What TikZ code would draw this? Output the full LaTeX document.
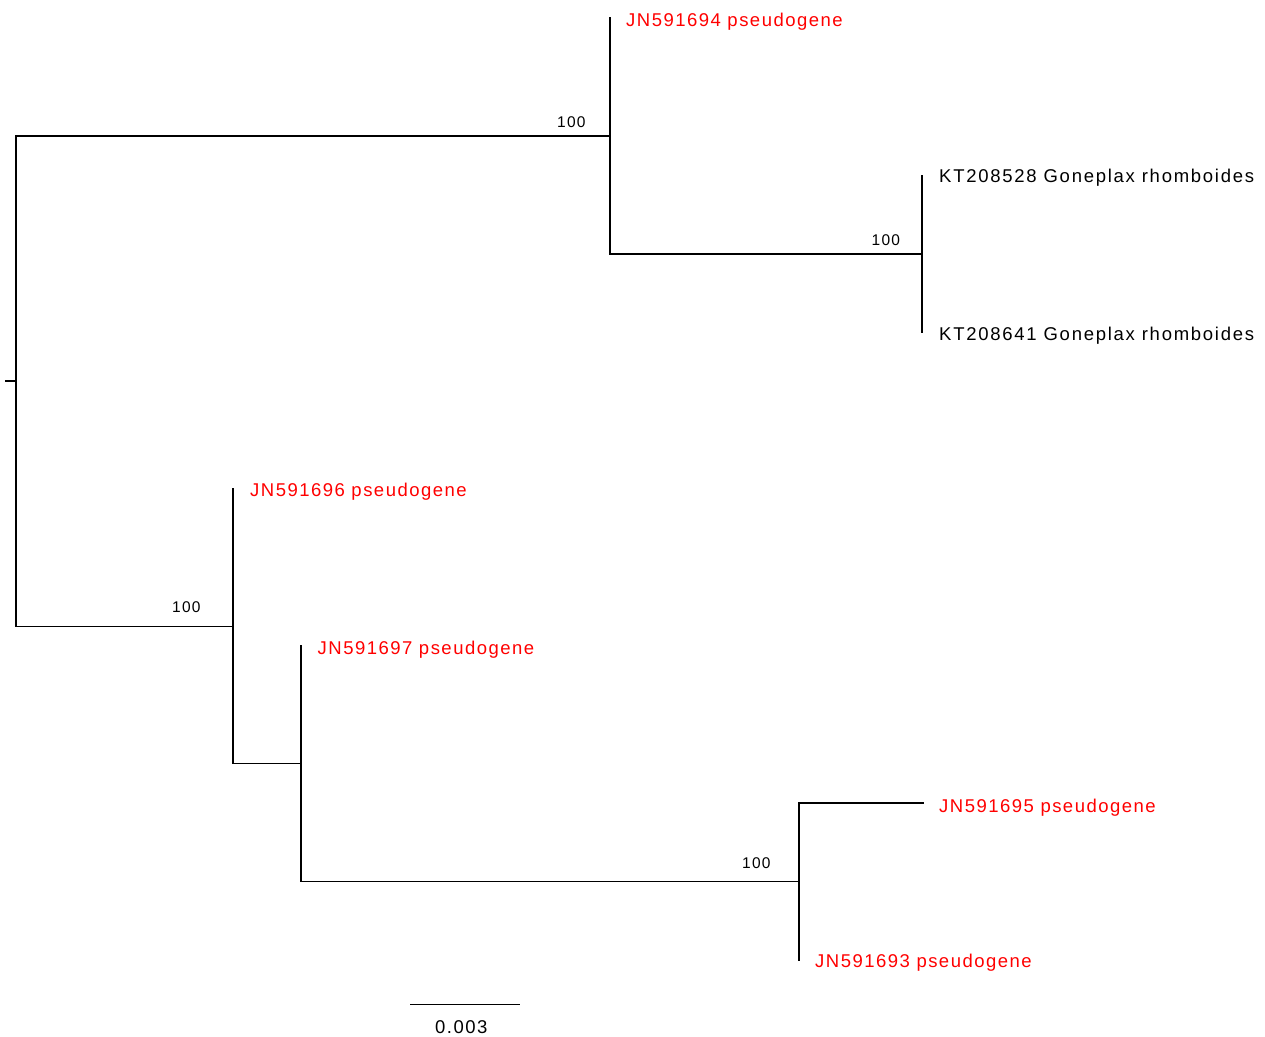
\documentclass[tikz,border=0pt]{standalone}
\usepackage{fontspec}
\setmainfont{Liberation Sans}
\newfontfamily\leaffamily[LetterSpace=8]{Liberation Sans}
\newfontfamily\ktfamily[LetterSpace=9.4]{Liberation Sans}
\newcommand\leaffont{\leaffamily\fontsize{18.5}{22}\selectfont}
\newcommand\ktfont{\ktfamily\fontsize{18.5}{22}\selectfont}
\newcommand\suppfont{\leaffamily\fontsize{15.5}{18}\selectfont}
\definecolor{pseudored}{RGB}{255,0,0}
\begin{document}
\begin{tikzpicture}[x=1pt,y=-1pt,
  branch/.style={draw=black, line width=1.3pt, line cap=rect},
  leaf/.style={anchor=base west, inner sep=0pt, font=\leaffont, text=black},
  ktleaf/.style={leaf, font=\ktfont},
  pseudo/.style={leaf, text=pseudored},
  support/.style={anchor=base west, inner sep=0pt, font=\suppfont, text=black}]
\useasboundingbox (0,0) rectangle (1265,1036);
% tree coordinates
\coordinate (r0) at (6,381);
\coordinate (r) at (16,381);
\coordinate (rt) at (16,136);
\coordinate (rb) at (16,626.5);
\coordinate (a) at (610,136);
\coordinate (a1) at (610,18);
\coordinate (a2) at (610,254);
\coordinate (b) at (922,254);
\coordinate (b1) at (922,175.5);
\coordinate (b2) at (922,332.5);
\coordinate (c) at (233,626.5);
\coordinate (c1) at (233,489);
\coordinate (c2) at (233,763.5);
\coordinate (d) at (301,763.5);
\coordinate (d1) at (301,646);
\coordinate (d2) at (301,881.5);
\coordinate (e) at (799,881.5);
\coordinate (e1) at (799,803);
\coordinate (e2) at (799,960);
\coordinate (t95) at (923,803);
\coordinate (s1) at (410,1004.3);
\coordinate (s2) at (520,1004.3);
% branches
\draw[branch] (r0) -- (r);
\draw[branch] (rt) -- (rb);
\draw[branch] (rt) -- (a);
\draw[branch] (a1) -- (a2);
\draw[branch] (a2) -- (b);
\draw[branch] (b1) -- (b2);
\draw[branch] (rb) -- (c);
\draw[branch] (c1) -- (c2);
\draw[branch] (c2) -- (d);
\draw[branch] (d1) -- (d2);
\draw[branch] (d2) -- (e);
\draw[branch] (e1) -- (e2);
\draw[branch] (e1) -- (t95);
% support values
\node[support] (sa) at (557,127.3) {100};
\node[support] (sb) at (871.5,245) {100};
\node[support] (sc) at (172,612.7) {100};
\node[support] (se) at (742,868) {100};
% leaves
\node[pseudo] (l94) at (626,26) {JN591694 pseudogene};
\node[ktleaf] (l528) at (939,182.5) {KT208528 Goneplax rhomboides};
\node[ktleaf] (l641) at (939,340) {KT208641 Goneplax rhomboides};
\node[pseudo] (l96) at (250,496.7) {JN591696 pseudogene};
\node[pseudo] (l97) at (317.5,654) {JN591697 pseudogene};
\node[pseudo] (l95) at (939,812) {JN591695 pseudogene};
\node[pseudo] (l93) at (815,967) {JN591693 pseudogene};
% scale bar
\draw[branch, line cap=butt] (s1) -- (s2);
\node[leaf] (slab) at (435,1033) {0.003};
\end{tikzpicture}
\end{document}
